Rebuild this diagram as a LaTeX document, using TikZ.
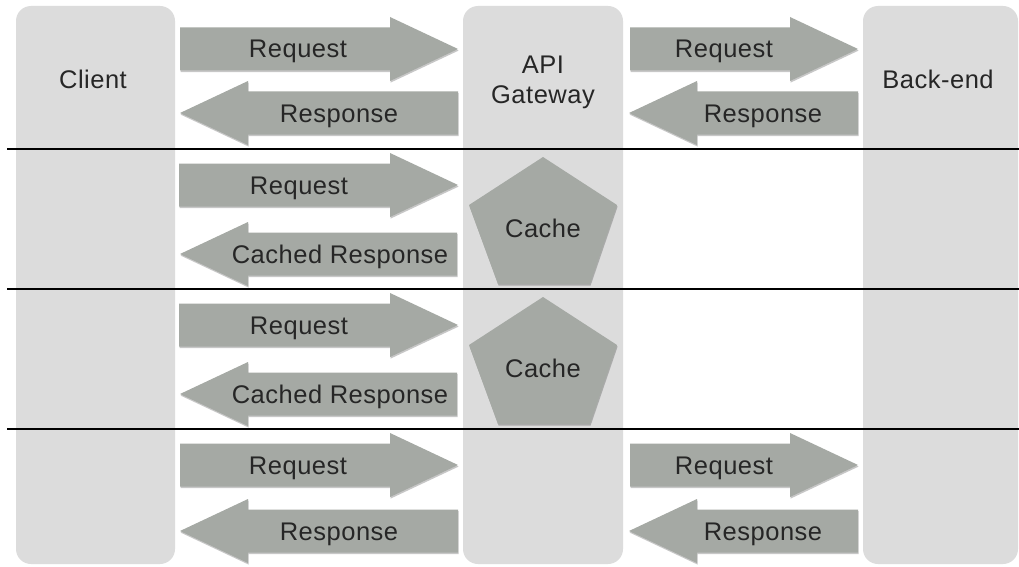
\documentclass[tikz,border=0pt]{standalone}
\usepackage{fontspec}
\setmainfont{Liberation Sans}
\usetikzlibrary{shadows}
\definecolor{colgray}{HTML}{DCDCDC}
\definecolor{arrgray}{HTML}{A5A9A4}
\definecolor{txt}{HTML}{262626}
\tikzset{
  column/.style={fill=colgray, rounded corners=15pt},
  arrowshape/.style={fill=arrgray, drop shadow={shadow xshift=0.6pt, shadow yshift=-1.6pt, opacity=0.22, fill=black}},
  lbl/.style={text=txt, font=\fontsize{25.5}{30}\selectfont\addfontfeature{LetterSpace=2}, anchor=base, inner sep=0pt},
  divider/.style={draw=black, line width=2pt},
}
% right arrow: #1 = tail x, #2 = tip x, #3 = centre y
\newcommand\RArr[3]{\path[arrowshape] (#1,{#3-21.5}) -- ({#2-68},{#3-21.5}) -- ({#2-68},{#3-32}) -- (#2,#3) -- ({#2-68},{#3+32}) -- ({#2-68},{#3+21.5}) -- (#1,{#3+21.5}) -- cycle;}
% left arrow: #1 = tip x, #2 = tail x, #3 = centre y
\newcommand\LArr[3]{\path[arrowshape] (#1,#3) -- ({#1+68},{#3-32}) -- ({#1+68},{#3-21.5}) -- (#2,{#3-21.5}) -- (#2,{#3+21.5}) -- ({#1+68},{#3+21.5}) -- ({#1+68},{#3+32}) -- cycle;}
\newcommand\Penta[1]{\path[arrowshape] (543,{#1}) -- (617,{#1+48}) -- (590,{#1+127}) -- (498,{#1+127}) -- (469,{#1+48}) -- cycle;}
\begin{document}
\begin{tikzpicture}[x=1pt,y=-1pt]
\useasboundingbox (0,0) rectangle (1019,567);
\fill[white] (0,0) rectangle (1019,567);
% columns
\path[column] (16,6) rectangle (175,564);
\path[column] (463,6) rectangle (623,564);
\path[column] (863,6) rectangle (1018,564);
\node[lbl] (client) at (93,89) {Client};
\node[lbl] (api) at (543,74) {API};
\node[lbl] (gw) at (543,104) {Gateway};
\node[lbl] (backend) at (938,89) {Back-end};
% row 1
\RArr{180}{458}{49}
\LArr{180}{458}{113}
\RArr{630}{858}{49}
\LArr{629}{858}{113}
\node[lbl] (req1) at (298,58) {Request};
\node[lbl] (res1) at (339,122) {Response};
\node[lbl] (req1b) at (724,58) {Request};
\node[lbl] (res1b) at (763,122) {Response};
% row 2
\RArr{179}{458}{185}
\LArr{180}{457}{254}
\Penta{157}
\node[lbl] (req2) at (299,194) {Request};
\node[lbl] (cres2) at (340,263) {Cached Response};
\node[lbl] (cache2) at (543,237) {Cache};
% row 3
\RArr{179}{458}{325}
\LArr{180}{457}{394}
\Penta{297}
\node[lbl] (req3) at (299,334) {Request};
\node[lbl] (cres3) at (340,403) {Cached Response};
\node[lbl] (cache3) at (543,377) {Cache};
% row 4
\RArr{180}{458}{465}
\LArr{180}{458}{531}
\RArr{630}{858}{465}
\LArr{629}{858}{531}
\node[lbl] (req4) at (298,474) {Request};
\node[lbl] (res4) at (339,540) {Response};
\node[lbl] (req4b) at (724,474) {Request};
\node[lbl] (res4b) at (763,540) {Response};
% dividers
\coordinate (d1l) at (7,149); \coordinate (d1r) at (1019,149);
\coordinate (d2l) at (7,289); \coordinate (d2r) at (1019,289);
\coordinate (d3l) at (7,429); \coordinate (d3r) at (1019,429);
\draw[divider] (d1l) -- (d1r);
\draw[divider] (d2l) -- (d2r);
\draw[divider] (d3l) -- (d3r);
\end{tikzpicture}
\end{document}
